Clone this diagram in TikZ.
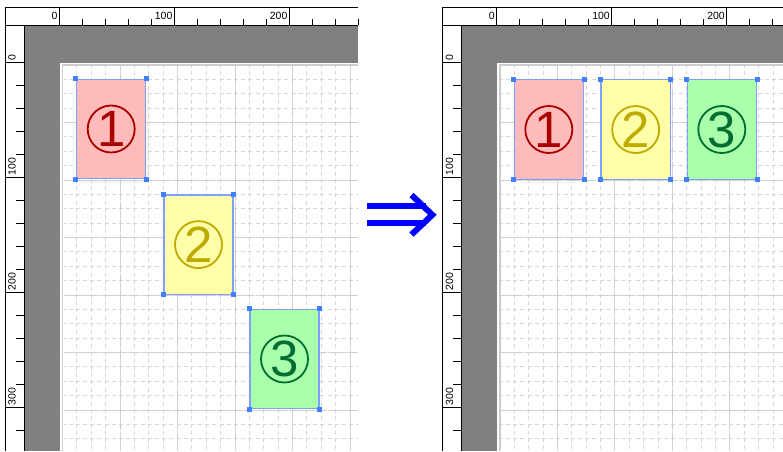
\documentclass[tikz,border=0pt]{standalone}
\usepackage{fontspec}
\setmainfont{Liberation Sans}
\usepackage{tikz}
\usetikzlibrary{positioning}
\usepackage{xcolor}
\definecolor{sheetA}{RGB}{255, 187, 187}
\definecolor{sheetB}{RGB}{255, 255, 170}
\definecolor{sheetC}{RGB}{170, 255, 170}
\definecolor{numA}{RGB}{170, 0, 0}
\definecolor{numB}{RGB}{190, 170, 0}
\definecolor{numC}{RGB}{0, 110, 50}
\definecolor{frameblue}{RGB}{128, 160, 255}
\definecolor{handleblue}{RGB}{64, 128, 255}
\definecolor{deskgray}{RGB}{128, 128, 128}
\definecolor{gridminor}{RGB}{214, 214, 214}
\definecolor{gridmajor}{RGB}{206, 206, 206}

\begin{document}
\begin{tikzpicture}[x=1pt, y=-1pt,
  sheet/.style={draw=frameblue, line width=1.3pt, minimum width=69.2pt, minimum height=99.4pt, inner sep=0pt},
  num/.style={circle, draw, line width=1.8pt, minimum size=47pt, inner sep=0pt, font=\fontsize{51}{51}\selectfont},
  handle/.style={fill=handleblue, minimum size=5pt, inner sep=0pt},
  ruleline/.style={line width=0.9pt, black},
  rulelabel/.style={font=\fontsize{10.5}{10.5}\selectfont, inner sep=0pt},
  minorgrid/.style={gridminor, line width=0.9pt, dash pattern=on 4pt off 3.19pt, dash phase=2pt},
  majorgrid/.style={gridmajor, line width=0.9pt, dash pattern=on 10pt off 4.375pt, dash phase=5pt}]
  \useasboundingbox (0, 0) rectangle (783, 451);
  \fill[white] (0, 0) rectangle (783, 451);

  % both panels: rulers, desk and page grid
  \foreach \ox/\ex/\nk/\ng in {0/358/13/20, 437.4/783/12/19} {
    \fill[deskgray] (\ox+24.5, 25.8) rectangle (\ex, 62.5);
    \fill[deskgray] (\ox+24.5, 62.5) rectangle (\ox+59.5, 451);
    \draw[ruleline] (\ox+5, 451) -- (\ox+5, 7.3) -- (\ex, 7.3);
    \draw[ruleline] (\ox+24, 451) -- (\ox+24, 25.3);
    \draw[ruleline] (\ox+5, 25.3) -- (\ex, 25.3);
    \foreach \k in {0,...,\nk}
      \draw[ruleline] (\ox+59.3+23*\k, 25.3) -- ++(0, -6.6);
    \foreach \k/\t in {0/0, 5/100, 10/200} {
      \draw[ruleline] (\ox+59.3+23*\k, 7.3) -- ++(0, 18);
      \node[rulelabel, anchor=base east] (top\t) at (\ox+57.6+23*\k, 19.8) {\t};
    }
    \foreach \k in {0,...,16}
      \draw[ruleline] (\ox+24, 62+23*\k) -- ++(-8, 0);
    \foreach \k/\t in {0/0, 5/100, 10/200, 15/300} {
      \draw[ruleline] (\ox+5, 62+23*\k) -- ++(19, 0);
      \node[rulelabel, rotate=90, anchor=base west] (side\t) at (\ox+15.6, 60.6+23*\k) {\t};
    }

    % page
    \foreach \k in {1,...,\ng}
      \draw[minorgrid] (\ox+62.5+14.375*\k, 66) -- (\ox+62.5+14.375*\k, 451);
    \foreach \k in {1,...,26}
      \draw[minorgrid] (\ox+63.5, 65+14.375*\k) -- (\ex, 65+14.375*\k);
    \foreach \k in {4,8,...,\ng}
      \draw[majorgrid] (\ox+62.5+14.375*\k, 66) -- (\ox+62.5+14.375*\k, 451);
    \foreach \k in {4,8,...,24}
      \draw[majorgrid] (\ox+63.5, 65+14.375*\k) -- (\ex, 65+14.375*\k);
    \draw[gridmajor, line width=1.5pt] (\ox+62.5, 451) -- (\ox+62.5, 65) -- (\ex, 65);
  }

  % before
  \node[sheet, fill=sheetA] (a1) at (111.2, 129) {};
  \node[sheet, fill=sheetB] (a2) at (198.5, 244.6) {};
  \node[sheet, fill=sheetC] (a3) at (284.5, 359) {};
  % after
  \node[sheet, fill=sheetA] (b1) at (548.8, 129.5) {};
  \node[sheet, fill=sheetB] (b2) at (635.7, 129.5) {};
  \node[sheet, fill=sheetC] (b3) at (721.8, 129.5) {};

  \foreach \s/\n/\c in {a1/1/numA, a2/2/numB, a3/3/numC, b1/1/numA, b2/2/numB, b3/3/numC}
    \node[num, \c] (\s n) at (\s) {\n};

  \foreach \s in {a1, a2, a3, b1, b2, b3}
    \foreach \c/\h in {north west/nw, north east/ne, south west/sw, south east/se}
      \node[handle] (\s\h) at (\s.\c) {};

  % big arrow
  \fill[blue] (366.7, 203.3) rectangle (426, 209.3);
  \fill[blue] (366.7, 220.3) rectangle (426, 226.3);
  \draw[blue, line width=6pt, miter limit=10] (411.5, 195) -- (432.3, 214.8) -- (411.5, 234.6);
\end{tikzpicture}
\end{document}
